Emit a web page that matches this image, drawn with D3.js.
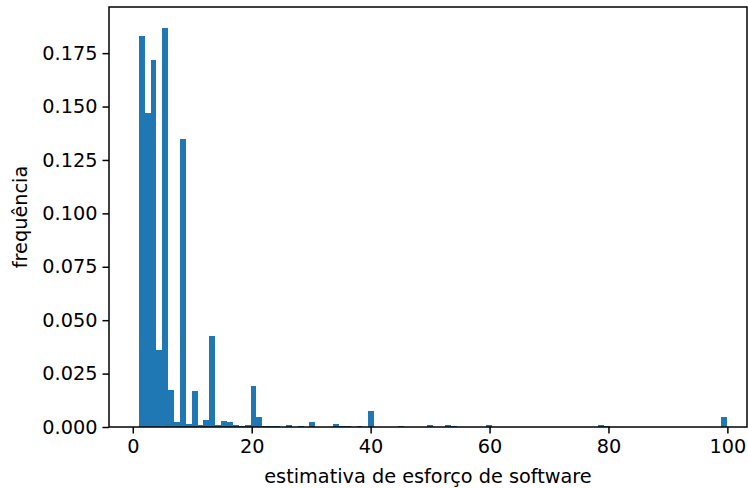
<!DOCTYPE html>
<html>
<head>
<meta charset="utf-8">
<script src="https://cdn.jsdelivr.net/npm/d3@7"></script>
<style>
  body { margin: 0; background: #fff; }
  text { font-family: "DejaVu Sans", sans-serif; fill: #000; }
</style>
</head>
<body>
<svg id="chart" width="748" height="488"></svg>
<script>
// histogram: bin start value (integer estimates 1..100, bin width 0.99) and its density
const binStarts = [1, 2, 3, 4, 5, 6, 7, 8, 9, 10, 11, 12, 13, 14, 15, 16, 17, 18, 19, 20,
    21, 22, 23, 24, 26, 28, 30, 34, 35, 36, 38, 40, 45, 50, 53, 54, 60, 79, 80, 100];
const densities = [0.1829, 0.1472, 0.1720, 0.0362, 0.1870, 0.0175, 0.0022, 0.1347, 0.0014, 0.0168,
    0.0008, 0.0033, 0.0424, 0.0010, 0.0029, 0.0025, 0.0008, 0.0006, 0.0010, 0.0193,
    0.0048, 0.0005, 0.0005, 0.0005, 0.0010, 0.0005, 0.0024, 0.0013, 0.0004, 0.0004,
    0.0005, 0.0076, 0.0003, 0.0010, 0.0008, 0.0004, 0.0010, 0.0008, 0.0004, 0.0048];
const binWidth = 0.99;
const xTicks = [0, 20, 40, 60, 80, 100];
const yTicks = [0, 0.025, 0.05, 0.075, 0.1, 0.125, 0.15, 0.175];
const xLabel = 'estimativa de esforço de software';
const yLabel = 'frequência';

const margin = {left: 109, right: 747, top: 7, bottom: 427};
const fontSize = '19.3px';
const svg = d3.select('#chart');

const x = d3.scaleLinear().domain([-4.0, 103.3]).range([margin.left, margin.right]);
const y = d3.scaleLinear().domain([0, 0.1966]).range([margin.bottom, margin.top]);

const bins = binStarts.map((b, i) => ({start: b, value: densities[i]}));

// the histogram bins are placed on 1 + 0.99*i, value v sits in bin v-1
svg.append('g')
    .attr('shape-rendering', 'crispEdges')
    .selectAll('rect')
    .data(bins)
    .join('rect')
    .attr('x', (d) => x(1 + (d.start - 1) * binWidth))
    .attr('width', (d) => x(1 + d.start * binWidth) - x(1 + (d.start - 1) * binWidth))
    .attr('y', (d) => y(d.value))
    .attr('height', (d) => y(0) - y(d.value))
    .attr('fill', '#1f77b4');

const xAxis = svg.append('g')
    .attr('transform', `translate(0,${margin.bottom})`)
    .call(d3.axisBottom(x).tickValues(xTicks).tickFormat(d3.format('d')).tickSize(6.5).tickPadding(6));
const yAxis = svg.append('g')
    .attr('transform', `translate(${margin.left},0)`)
    .call(d3.axisLeft(y).tickValues(yTicks).tickFormat(d3.format('.3f')).tickSize(6.5).tickPadding(5));

[xAxis, yAxis].forEach((ax) => {
    ax.select('.domain').remove();
    ax.selectAll('line').attr('stroke', '#000').attr('stroke-width', 1.5);
    ax.selectAll('text').style('font-size', fontSize).style('font-family', '"DejaVu Sans", sans-serif');
});

// frame
svg.append('rect')
    .attr('x', margin.left)
    .attr('y', margin.top)
    .attr('width', margin.right - margin.left)
    .attr('height', margin.bottom - margin.top)
    .attr('fill', 'none')
    .attr('stroke', '#000')
    .attr('stroke-width', 1.5);

svg.append('text')
    .attr('x', (margin.left + margin.right) / 2)
    .attr('y', 483)
    .attr('text-anchor', 'middle')
    .style('font-size', fontSize)
    .text(xLabel);

svg.append('text')
    .attr('transform', `translate(27,${(margin.top + margin.bottom) / 2}) rotate(-90)`)
    .attr('text-anchor', 'middle')
    .style('font-size', fontSize)
    .text(yLabel);
</script>
</body>
</html>
